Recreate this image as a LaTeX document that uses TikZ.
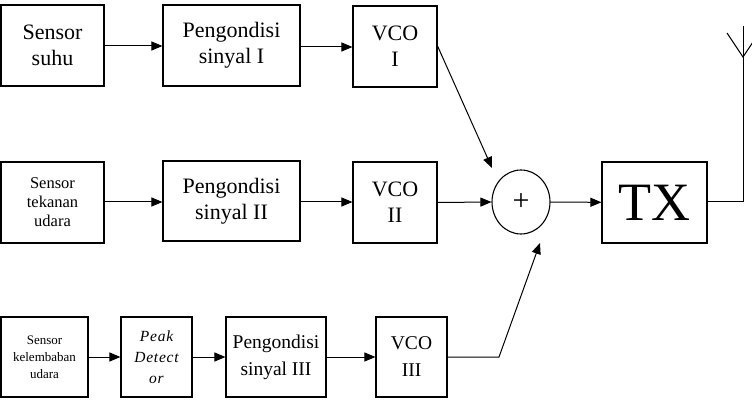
\documentclass[tikz,border=0pt]{standalone}
\usepackage{fontspec}
\setmainfont{Liberation Serif}
\usetikzlibrary{arrows.meta,shapes.geometric}
\tikzset{
  blk/.style={draw,line width=1.1pt,rectangle,inner sep=0pt,align=center},
  big/.style={font=\fontsize{22}{26}\selectfont},
  mid/.style={font=\fontsize{19.5}{27}\selectfont},
  arr/.style={line width=1pt,-{Triangle[length=11pt,width=9pt]}},
  ln/.style={line width=1pt}
}
\begin{document}
\begin{tikzpicture}[x=1pt,y=-1pt]
\useasboundingbox (0,0) rectangle (752,406);
\clip (0,0) rectangle (752,406);
% row 1
\node[blk,big,minimum width=103pt,minimum height=81pt] (s1) at (52.5,45.5) {Sensor\\suhu};
\node[blk,big,minimum width=137pt,minimum height=81pt] (p1) at (231.5,45.5) {Pengondisi\\sinyal I};
\node[blk,big,minimum width=84pt,minimum height=81pt] (v1) at (395,46.5) {VCO\\I};
% row 2
\node[blk,font=\fontsize{16.5}{19}\selectfont,minimum width=103pt,minimum height=81pt] (s2) at (52.5,202.5) {Sensor\\tekanan\\udara};
\node[blk,big,minimum width=137pt,minimum height=80pt] (p2) at (231.5,201) {Pengondisi\\sinyal II};
\node[blk,big,minimum width=84pt,minimum height=81pt] (v2) at (395,202.5) {VCO\\II};
% row 3
\node[blk,font=\fontsize{13}{17}\selectfont,minimum width=87pt,minimum height=80pt] (s3) at (44.5,357) {Sensor\\kelembaban\\udara};
\node[blk,font=\fontsize{15.5}{21}\selectfont\itshape\addfontfeature{LetterSpace=5},minimum width=71pt,minimum height=80pt] (pd) at (156.5,357) {Peak\\Detect\\or};
\node[blk,mid,minimum width=100pt,minimum height=80pt] (p3) at (276,357) {Pengondisi\\sinyal III};
\node[blk,mid,minimum width=71pt,minimum height=80pt] (v3) at (411.5,357) {VCO\\III};
% summer and TX
\node[draw,line width=1.1pt,ellipse,minimum width=58pt,minimum height=64pt,inner sep=0pt,font=\fontsize{30}{32}\selectfont] (sum) at (521,202) {+};
\node[blk,font=\fontsize{54}{60}\selectfont,minimum width=105pt,minimum height=81pt] (tx) at (654.5,202.5) {TX};
% coordinates
\coordinate (t1) at (492,168);
\coordinate (b1) at (499,357);
\coordinate (t3) at (540,243);
\coordinate (a0) at (743,202);
\coordinate (a1) at (743,26);
\coordinate (aj) at (743,57);
\coordinate (al) at (727,33);
\coordinate (ar) at (759,33);
% connectors
\draw[arr] (s1.east |- 0,46) -- (p1.west |- 0,46);
\draw[arr] (p1.east |- 0,47) -- (v1.west |- 0,47);
\draw[arr] (s2.east |- 0,202) -- (p2.west |- 0,202);
\draw[arr] (p2.east |- 0,202) -- (v2.west |- 0,202);
\draw[arr] (s3) -- (pd);
\draw[arr] (pd) -- (p3);
\draw[arr] (p3) -- (v3);
\draw[arr] (v1.east |- 0,46) -- (t1);
\draw[arr] (v2.east) -- (sum.west);
\draw[arr] (sum) -- (tx);
\draw[arr] (v3.east) -- (b1) -- (t3);
\draw[ln] (tx.east |- a0) -- (a0) -- (a1);
\draw[ln] (al) -- (aj) -- (ar);
\end{tikzpicture}
\end{document}
